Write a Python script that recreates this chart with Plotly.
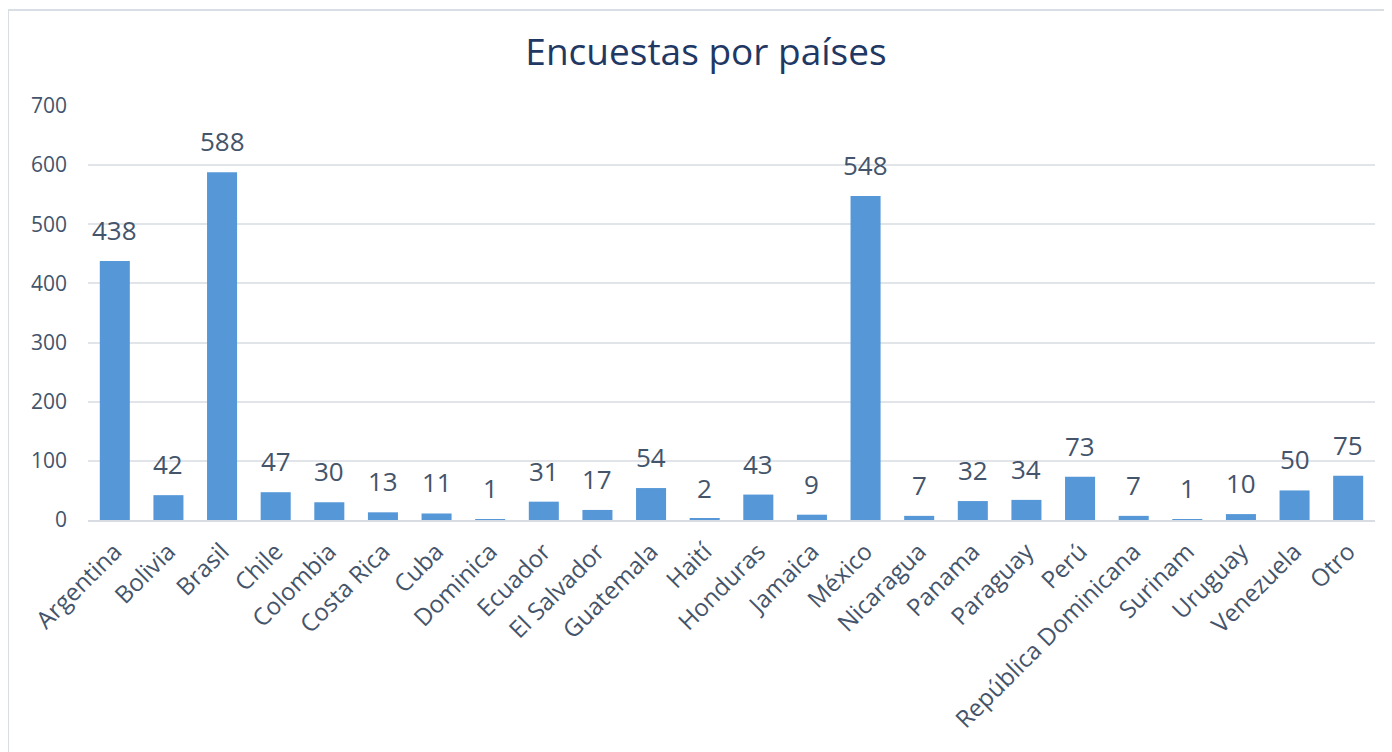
import plotly.graph_objects as go

countries = ["Argentina", "Bolivia", "Brasil", "Chile", "Colombia", "Costa Rica", "Cuba",
             "Dominica", "Ecuador", "El Salvador", "Guatemala", "Haití", "Honduras", "Jamaica",
             "México", "Nicaragua", "Panama", "Paraguay", "Perú", "República Dominicana",
             "Surinam", "Uruguay", "Venezuela", "Otro"]
counts = [438, 42, 588, 47, 30, 13, 11, 1, 31, 17, 54, 2, 43, 9, 548, 7, 32, 34, 73, 7, 1, 10, 50, 75]

text_color = "#44546a"
font_family = "Open Sans, Noto Sans, sans-serif"

fig = go.Figure(go.Bar(
    x=countries, y=counts,
    marker=dict(color="#5597d7", line=dict(width=0)),
    cliponaxis=False,
))

# value labels above bars
for c, v in zip(countries, counts):
    fig.add_annotation(x=c, y=v, text=str(v), showarrow=False,
                       xanchor="center", yanchor="bottom", yshift=11,
                       font=dict(size=26, color=text_color, family=font_family))

fig.update_layout(
    width=1392, height=752,
    margin=dict(l=80, r=25, t=98, b=240, autoexpand=False),
    paper_bgcolor="white", plot_bgcolor="white",
    bargap=0.44,
    showlegend=False,
    title=dict(text="Encuestas por países", x=698 / 1392, xref="container", xanchor="center",
               y=1 - 44 / 752, yref="container", yanchor="middle",
               font=dict(size=37, color="#1f3864", family=font_family)),
    font=dict(family=font_family, color=text_color),
)
fig.update_xaxes(tickangle=-45, tickfont=dict(size=24, color=text_color),
                 showgrid=False, showline=True, linecolor="#d9dde3", linewidth=2,
                 ticks="", ticklabelstandoff=6, automargin=False)
fig.update_yaxes(range=[0, 700], dtick=100, tickfont=dict(size=21, color=text_color),
                 showgrid=True, gridcolor="#e1e5ea", gridwidth=2,
                 zeroline=False, showline=False, ticks="", ticklabelstandoff=20,
                 automargin=False)

# outer chart border
fig.add_shape(type="rect", xref="paper", yref="paper",
              x0=(8 - 88) / 1287, x1=(1420 - 88) / 1287,
              y0=(520 - 780) / 414, y1=(520 - 10) / 414,
              line=dict(color="#d9dee5", width=2), fillcolor="rgba(0,0,0,0)", layer="below")

fig.write_html("out.html")
